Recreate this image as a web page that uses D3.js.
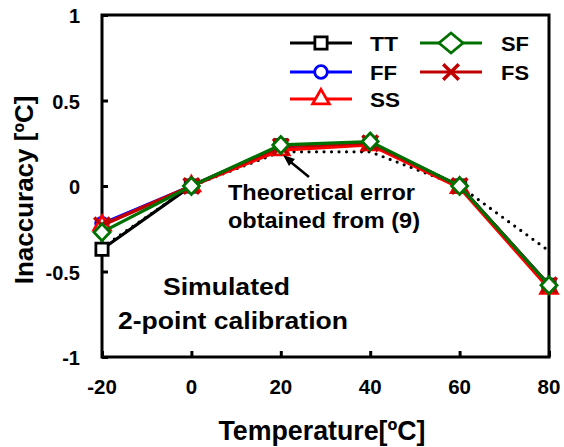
<!DOCTYPE html>
<html>
<head>
<meta charset="utf-8">
<script src="https://cdn.jsdelivr.net/npm/d3@7"></script>
<style>
  body { margin: 0; background: #fff; }
  text { font-family: Arial, "Liberation Sans", sans-serif; font-weight: bold; }
</style>
</head>
<body>
<svg width="564" height="447"></svg>
<script>
var temps = [-20, 0, 20, 40, 60, 80];
var xTicks = [-20, 0, 20, 40, 60, 80];
var yTicks = [-1, -0.5, 0, 0.5, 1];

var TT = [-0.37, 0, 0.235, 0.25, 0, -0.58];
var FF = [-0.22, 0, 0.23, 0.25, 0, -0.58];
var SS = [-0.23, 0, 0.21, 0.24, -0.01, -0.6];
var SF = [-0.27, 0, 0.24, 0.26, 0, -0.58];
var FS = [-0.23, 0, 0.23, 0.25, 0, -0.58];
var theory = [-0.36, 0, 0.2, 0.2, 0, -0.38];

var seriesNames = ["TT", "FF", "SS", "SF", "FS"];
var seriesValues = [TT, FF, SS, SF, FS];
var seriesColors = ["#000000", "#0000ff", "#ff0000", "#007000", "#c00000"];
var seriesMarks = ["square", "circle", "triangle", "diamond", "cross"];
var drawOrder = [0, 1, 2, 4, 3];

function main() {
    var svg = d3.select("svg"),
        left = 102, right = 549, top = 15, bottom = 357;

    var x = d3.scaleLinear().domain([-20, 80]).range([left, right]),
        y = d3.scaleLinear().domain([-1, 1]).range([bottom, top]);

    var g = svg.append("g");

    // frame
    g.append("rect")
        .attr("x", left).attr("y", top)
        .attr("width", right - left).attr("height", bottom - top)
        .attr("fill", "none").attr("stroke", "#000").attr("stroke-width", 3);

    // axes with inward ticks
    var yAxis = g.append("g")
        .attr("transform", "translate(" + left + ",0)")
        .call(d3.axisRight(y).tickValues(yTicks).tickSize(6).tickFormat(""));
    yAxis.select(".domain").remove();
    yAxis.selectAll("line").attr("stroke-width", 3);

    var xAxis = g.append("g")
        .attr("transform", "translate(0," + bottom + ")")
        .call(d3.axisTop(x).tickValues(xTicks).tickSize(6).tickFormat(""));
    xAxis.select(".domain").remove();
    xAxis.selectAll("line").attr("stroke-width", 3);

    // tick labels
    g.selectAll(".ylab").data(yTicks).enter().append("text")
        .attr("x", left - 22).attr("y", function(d) { return y(d) + 8; })
        .attr("text-anchor", "end").attr("font-size", "20px")
        .text(function(d) { return d; });
    g.selectAll(".xlab").data(xTicks).enter().append("text")
        .attr("x", function(d) { return x(d); }).attr("y", bottom + 37)
        .attr("text-anchor", "middle").attr("font-size", "20.5px")
        .text(function(d) { return d; });

    // axis titles
    svg.append("text")
        .attr("x", 322).attr("y", 440)
        .attr("text-anchor", "middle").attr("font-size", "27px")
        .attr("textLength", 207).attr("lengthAdjust", "spacingAndGlyphs")
        .text("Temperature[ºC]");
    svg.append("text")
        .attr("transform", "translate(33,190) rotate(-90)")
        .attr("text-anchor", "middle").attr("font-size", "26px")
        .text("Inaccuracy [ºC]");

    var line = d3.line()
        .x(function(d, i) { return x(temps[i]); })
        .y(function(d) { return y(d); });

    // theoretical dotted curve
    g.append("path")
        .attr("d", line(theory))
        .attr("fill", "none").attr("stroke", "#000")
        .attr("stroke-width", 3.2).attr("stroke-linecap", "round")
        .attr("stroke-dasharray", "0 7.5");

    var symbols = {
        square: d3.symbol().type(d3.symbolSquare).size(150),
        circle: d3.symbol().type(d3.symbolCircle).size(125),
        triangle: d3.symbol().type(d3.symbolTriangle).size(120),
        cross: d3.symbol().type(d3.symbolX).size(160)
    };

    function drawMark(sel, kind, color, big) {
        var d;
        if (kind === "diamond") {
            var w = big ? 12 : 8, h = big ? 10 : 8.5;
            d = "M0," + (-h) + "L" + w + ",0L0," + h + "L" + (-w) + ",0Z";
        } else {
            d = symbols[kind]();
        }
        sel.append("path")
            .attr("d", d)
            .attr("fill", kind === "cross" ? "none" : "#fff")
            .attr("stroke", color)
            .attr("stroke-width", kind === "cross" ? 3.5 : 2.8);
    }

    drawOrder.forEach(function(k) {
        var vals = seriesValues[k];
        var s = g.append("g");
        s.append("path")
            .attr("d", line(vals))
            .attr("fill", "none")
            .attr("stroke", seriesColors[k])
            .attr("stroke-width", 3.2);
        s.selectAll("g.pt").data(vals).enter().append("g")
            .attr("transform", function(d, i) { return "translate(" + x(temps[i]) + "," + y(d) + ")"; })
            .each(function() { drawMark(d3.select(this), seriesMarks[k], seriesColors[k], false); });
    });

    // legend
    var legPos = [[290, 43], [290, 72], [290, 99], [420, 43], [420, 72]];
    var legWidth = [28, 27, 30, 28, 28];
    seriesNames.forEach(function(name, k) {
        var lg = svg.append("g")
            .attr("transform", "translate(" + legPos[k][0] + "," + legPos[k][1] + ")");
        lg.append("line")
            .attr("x1", 0).attr("x2", 62)
            .attr("stroke", seriesColors[k]).attr("stroke-width", 3.2);
        drawMark(lg.append("g").attr("transform", "translate(31,0)"), seriesMarks[k], seriesColors[k], true);
        lg.append("text")
            .attr("x", k < 3 ? 80 : 81).attr("y", 7.5)
            .attr("font-size", "21px")
            .attr("textLength", legWidth[k]).attr("lengthAdjust", "spacingAndGlyphs")
            .text(name);
    });

    // annotations
    svg.append("text")
        .attr("x", 228).attr("y", 200)
        .attr("font-size", "22px")
        .attr("textLength", 187).attr("lengthAdjust", "spacingAndGlyphs")
        .text("Theoretical error");
    svg.append("text")
        .attr("x", 228).attr("y", 228)
        .attr("font-size", "22px")
        .attr("textLength", 192).attr("lengthAdjust", "spacingAndGlyphs")
        .text("obtained from (9)");
    svg.append("line")
        .attr("x1", 309).attr("y1", 177).attr("x2", 287).attr("y2", 159)
        .attr("stroke", "#000").attr("stroke-width", 2.5);
    svg.append("path")
        .attr("d", "M283,155 L295,159 L289,166 Z")
        .attr("fill", "#000");

    svg.append("text")
        .attr("x", 163).attr("y", 295)
        .attr("font-size", "23px")
        .attr("textLength", 127).attr("lengthAdjust", "spacingAndGlyphs")
        .text("Simulated");
    svg.append("text")
        .attr("x", 118).attr("y", 329)
        .attr("font-size", "23px")
        .attr("textLength", 230).attr("lengthAdjust", "spacingAndGlyphs")
        .text("2-point calibration");
}
main();
</script>
</body>
</html>
